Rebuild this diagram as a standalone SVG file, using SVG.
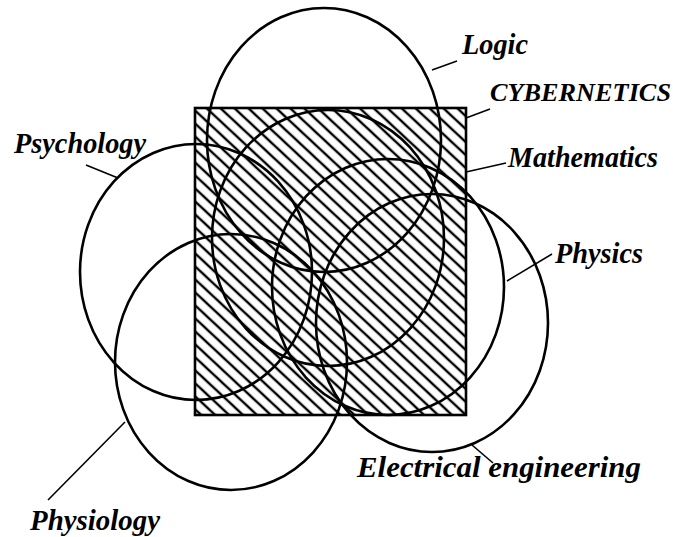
<svg xmlns="http://www.w3.org/2000/svg" width="673" height="537" viewBox="0 0 673 537">
<style>
.c{fill:none;stroke:#000;stroke-width:2.6}
.l{stroke:#000;stroke-width:1.6;fill:none}
.t{font-family:"Liberation Serif","Times New Roman",serif;font-style:italic;font-weight:bold;fill:#000}
</style>
<defs>
<pattern id="hatch" width="9.5" height="9.5" patternUnits="userSpaceOnUse" patternTransform="rotate(43)">
<line x1="0" y1="4.75" x2="9.5" y2="4.75" stroke="#000" stroke-width="2.4"/>
</pattern>
</defs>
<rect width="673" height="537" fill="#fff"/>
<g id="cybernetics">
<rect x="195" y="108" width="271" height="307" fill="url(#hatch)" stroke="#000" stroke-width="2.6"/>
</g>
<g id="logic"><ellipse class="c" cx="324" cy="140" rx="117" ry="132"/></g>
<g id="mathematics"><ellipse class="c" cx="328" cy="238" rx="116" ry="128"/></g>
<g id="physics"><ellipse class="c" cx="388" cy="287" rx="116" ry="128"/></g>
<g id="electrical"><ellipse class="c" cx="432" cy="323" rx="116" ry="129"/></g>
<g id="physiology"><ellipse class="c" cx="231" cy="362" rx="116" ry="128"/></g>
<g id="psychology"><ellipse class="c" cx="196" cy="272" rx="116" ry="128"/></g>
<g id="connectors">
<line class="l" x1="432" y1="70" x2="457" y2="61"/>
<line class="l" x1="466" y1="118" x2="490" y2="109"/>
<line class="l" x1="86" y1="165" x2="118" y2="178"/>
<line class="l" x1="466" y1="172" x2="506" y2="163"/>
<line class="l" x1="507" y1="281" x2="552" y2="254"/>
<line class="l" x1="472" y1="445" x2="493" y2="463"/>
<line class="l" x1="125" y1="422" x2="48" y2="500"/>
</g>
<g id="labels">
<text class="t" x="462" y="54" font-size="30" textLength="66" lengthAdjust="spacingAndGlyphs">Logic</text>
<text class="t" x="490" y="101" font-size="26" textLength="181" lengthAdjust="spacingAndGlyphs">CYBERNETICS</text>
<text class="t" x="14" y="153" font-size="30" textLength="132" lengthAdjust="spacingAndGlyphs">Psychology</text>
<text class="t" x="508" y="167" font-size="29" textLength="150" lengthAdjust="spacingAndGlyphs">Mathematics</text>
<text class="t" x="555" y="263" font-size="29" textLength="88" lengthAdjust="spacingAndGlyphs">Physics</text>
<text class="t" x="357" y="477" font-size="30" textLength="284" lengthAdjust="spacingAndGlyphs">Electrical engineering</text>
<text class="t" x="30" y="530" font-size="30" textLength="130" lengthAdjust="spacingAndGlyphs">Physiology</text>
</g>
</svg>
